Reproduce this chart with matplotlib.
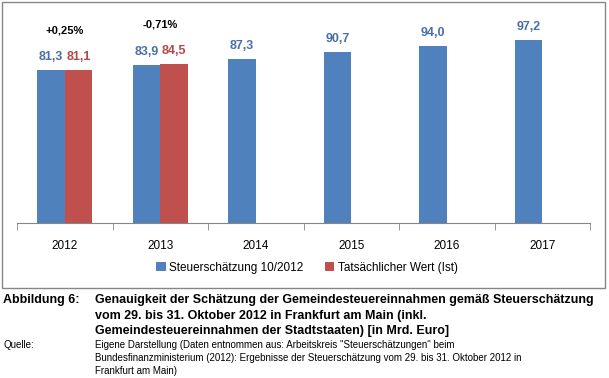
import numpy as np
import matplotlib.pyplot as plt
from matplotlib.patches import Rectangle

years = ['2012', '2013', '2014', '2015', '2016', '2017']
schaetzung = [81.3, 83.9, 87.3, 90.7, 94.0, 97.2]
ist = [81.1, 84.5]
abweichung = ['+0,25%', '-0,71%']

blue = '#4F81BD'
red = '#C0504D'

W, H = 609, 378
plt.rcParams['font.family'] = ['Liberation Sans', 'DejaVu Sans']
fig = plt.figure(figsize=(W / 100, H / 100), dpi=100)

# chart frame
fig.patches.append(Rectangle((2 / W, 1 - 288 / H), 603 / W, 286 / H,
                             transform=fig.transFigure, fill=False,
                             edgecolor='#868686', linewidth=1))

ax = fig.add_axes([17 / W, 1 - 223 / H, 573 / W, 207 / H])
x = np.arange(len(years))
bw = 0.29
b1 = ax.bar(x - bw / 2, schaetzung, bw, color=blue, label='Steuerschätzung 10/2012')
b2 = ax.bar(x[:len(ist)] + bw / 2, ist, bw, color=red, label='Tatsächlicher Wert (Ist)')

for xi, v in zip(x, schaetzung):
    ax.text(xi - bw / 2, v + 7, f'{v:.1f}'.replace('.', ','), ha='center', va='center',
            color='#4A6FA8', fontsize=9, fontweight='bold')
for xi, v in zip(x, ist):
    ax.text(xi + bw / 2, v + 7, f'{v:.1f}'.replace('.', ','), ha='center', va='center',
            color='#B04A48', fontsize=9, fontweight='bold')
for xi, v, t in zip(x, ist, abweichung):
    ax.text(xi, max(v, schaetzung[xi]) + 21, t, ha='center', va='center',
            color='black', fontsize=8, fontweight='bold')

ax.set_xlim(-0.5, len(years) - 0.5)
ax.set_ylim(0, 110)
ax.set_yticks([])
ax.set_xticks(x)
ax.set_xticklabels(years, fontsize=8.5)
ax.tick_params(axis='x', which='major', length=0, pad=12)
ax.set_xticks(np.arange(-0.5, len(years)), minor=True)
ax.tick_params(axis='x', which='minor', length=5, color='#868686')
for s in ['top', 'right', 'left']:
    ax.spines[s].set_visible(False)
ax.spines['bottom'].set_color('#868686')

fig.legend(handles=[b1, b2], loc='center', bbox_to_anchor=(307 / W, 1 - 268 / H),
           ncol=2, frameon=False, fontsize=8.5, handlelength=0.8, handleheight=0.8,
           handletextpad=0.3, columnspacing=1.8)

# caption
cap = 9.0
fig.text(3 / W, 1 - 300 / H, 'Abbildung 6:', fontsize=cap, fontweight='bold', va='center')
title_lines = ['Genauigkeit der Schätzung der Gemeindesteuereinnahmen gemäß Steuerschätzung',
               'vom 29. bis 31. Oktober 2012 in Frankfurt am Main (inkl.',
               'Gemeindesteuereinnahmen der Stadtstaaten) [in Mrd. Euro]']
for i, line in enumerate(title_lines):
    fig.text(95 / W, 1 - (300 + 15.5 * i) / H, line, fontsize=cap, fontweight='bold', va='center')

fig.text(3 / W, 1 - 345 / H, 'Quelle:', fontsize=7, va='center')
src_lines = ['Eigene Darstellung (Daten entnommen aus: Arbeitskreis "Steuerschätzungen" beim',
             'Bundesfinanzministerium (2012): Ergebnisse der Steuerschätzung vom 29. bis 31. Oktober 2012 in',
             'Frankfurt am Main)']
for i, line in enumerate(src_lines):
    fig.text(95 / W, 1 - (345 + 13 * i) / H, line, fontsize=7, va='center')

fig.savefig('out.png', dpi=100)
